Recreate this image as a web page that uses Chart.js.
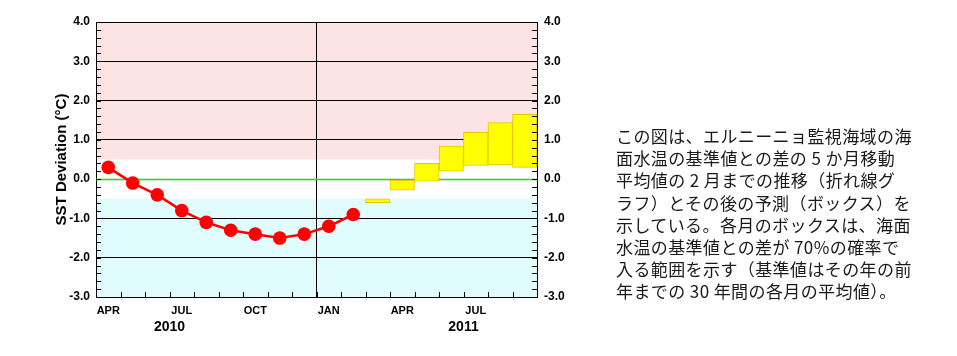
<!DOCTYPE html>
<html><head><meta charset="utf-8">
<script src="https://cdn.jsdelivr.net/npm/chart.js@4/dist/chart.umd.min.js"></script>
<style>
html,body{margin:0;padding:0;background:#fff;width:957px;height:356px;overflow:hidden}
#wrap{position:absolute;left:0;top:0;width:957px;height:356px}
#note{position:absolute;left:616px;top:125px;font-family:"Noto Sans CJK JP";font-size:17px;line-height:22.2px;color:#1a1a1a;white-space:pre;letter-spacing:0.4px}
</style></head><body>
<div id="wrap"><canvas id="c" width="957" height="356"></canvas></div>
<div id="note">この図は、エルニーニョ監視海域の海
面水温の基準値との差の 5 か月移動
平均値の 2 月までの推移（折れ線グ
ラフ）とその後の予測（ボックス）を
示している。各月のボックスは、海面
水温の基準値との差が 70%の確率で
入る範囲を示す（基準値はその年の前
年までの 30 年間の各月の平均値）。</div>
<script>
const months = ['APR','MAY','JUN','JUL','AUG','SEP','OCT','NOV','DEC','JAN','FEB','MAR','APR','MAY','JUN','JUL','AUG','SEP'];
const tickLabels = ['APR','','','JUL','','','OCT','','','JAN','','','APR','','','JUL','',''];
const yearLabels = ['2010','2011'];
const yearAnchorIndex = [3, 15];
const sstObserved = [0.3,-0.1,-0.4,-0.8,-1.1,-1.3,-1.4,-1.5,-1.4,-1.2,-0.9,null,null,null,null,null,null,null];
const boxLow  = [null,null,null,null,null,null,null,null,null,null,null,-0.6,-0.28,-0.05,0.2,0.35,0.36,0.3];
const boxHigh = [null,null,null,null,null,null,null,null,null,null,null,-0.5,-0.03,0.4,0.84,1.19,1.44,1.65];
const yTickValues = [-3,-2,-1,0,1,2,3,4];
const FONT = '"Liberation Sans", Arial, sans-serif';

const boxData = months.map((m,i)=> boxLow[i]===null ? null : [boxLow[i], boxHigh[i]]);

const decor = {
  id:'decor',
  beforeDraw(chart){
    const {ctx, chartArea:a, scales:{y}} = chart;
    ctx.save();
    const p05 = y.getPixelForValue(0.5), m05 = y.getPixelForValue(-0.5);
    ctx.fillStyle = '#fde4e4';
    ctx.fillRect(a.left, a.top, a.right-a.left, p05-a.top);
    ctx.fillStyle = '#e1fcfc';
    ctx.fillRect(a.left, m05, a.right-a.left, a.bottom-m05);
    ctx.restore();
  },
  beforeDatasetsDraw(chart){
    const {ctx, chartArea:a, scales:{y}} = chart;
    ctx.save();
    const z = Math.round(y.getPixelForValue(0))+0.5;
    ctx.strokeStyle = 'rgba(80,210,60,0.35)'; ctx.lineWidth = 3;
    ctx.beginPath(); ctx.moveTo(a.left,z); ctx.lineTo(a.right,z); ctx.stroke();
    ctx.strokeStyle = '#44cc33'; ctx.lineWidth = 1;
    ctx.beginPath(); ctx.moveTo(a.left,z); ctx.lineTo(a.right,z); ctx.stroke();
    ctx.restore();
  },
  afterDraw(chart){
    const {ctx, chartArea:a, scales:{x,y}} = chart;
    ctx.save();
    ctx.strokeStyle = '#000'; ctx.lineWidth = 1;
    ctx.beginPath(); ctx.moveTo(a.left, a.top+0.5); ctx.lineTo(a.right, a.top+0.5); ctx.stroke();
    ctx.beginPath();
    for(let k=-15;k<=20;k++){
      const py = Math.round(y.getPixelForValue(k*0.2))+0.5;
      ctx.moveTo(a.left, py); ctx.lineTo(a.left+5, py);
      ctx.moveTo(a.right, py); ctx.lineTo(a.right-5, py);
    }
    for(let i=1;i<months.length;i++){
      const px = Math.round((x.getPixelForValue(i-1)+x.getPixelForValue(i))/2)+0.5;
      ctx.moveTo(px, a.bottom); ctx.lineTo(px, a.bottom-5);
    }
    ctx.stroke();
    ctx.fillStyle = '#000';
    ctx.font = 'bold 14px ' + FONT;
    ctx.textAlign = 'center'; ctx.textBaseline = 'middle';
    yearLabels.forEach((t,j)=>{
      const i = yearAnchorIndex[j];
      const px = (x.getPixelForValue(i-1)+x.getPixelForValue(i))/2;
      ctx.fillText(t, px, a.bottom+30);
    });
    ctx.restore();
  }
};

new Chart(document.getElementById('c'), {
  data:{
    labels: months,
    datasets:[
      {type:'line', data: sstObserved, borderColor:'#ff0000', backgroundColor:'#ff0000', borderWidth:2.5,
       pointRadius:6.8, pointBorderWidth:0, pointBackgroundColor:'#ff0000', spanGaps:false, order:0, yAxisID:'y'},
      {type:'bar', data: boxData, backgroundColor:'#ffff00', borderColor:'#e8c400', borderWidth:1,
       borderSkipped:false, barPercentage:1, categoryPercentage:1, order:1, yAxisID:'y'}
    ]
  },
  options:{
    responsive:false, animation:false, devicePixelRatio:1,
    layout:{padding:{left:0, right:380, top:22, bottom:0}},
    plugins:{legend:{display:false}, tooltip:{enabled:false}},
    scales:{
      x:{type:'category', offset:true,
         grid:{offset:true, drawTicks:false, lineWidth:1, color:(c)=> c.index===9 ? '#000' : 'rgba(0,0,0,0)'},
         border:{display:true, color:'#000', width:1},
         ticks:{autoSkip:false, maxRotation:0, padding:7, color:'#000', font:{family:FONT, weight:'bold', size:11},
                callback:(v,i)=>tickLabels[i]},
         afterFit:(s)=>{s.height=59;}},
      y:{position:'left', min:-3, max:4,
         afterBuildTicks:(s)=>{s.ticks = yTickValues.map(v=>({value:v}));},
         grid:{drawTicks:false, lineWidth:1, color:(c)=> (c.tick && c.tick.value===0) ? 'rgba(0,0,0,0)' : '#000'},
         border:{display:true, color:'#000', width:1},
         ticks:{padding:6, color:'#000', font:{family:FONT, weight:'bold', size:12}, callback:(v)=>Number(v).toFixed(1)},
         title:{display:true, text:'SST Deviation (°C)', color:'#000', font:{family:FONT, weight:'bold', size:15}, padding:{top:53,bottom:0}},
         afterFit:(s)=>{s.width=96;}},
      y2:{position:'right', min:-3, max:4,
         afterBuildTicks:(s)=>{s.ticks = yTickValues.map(v=>({value:v}));},
         grid:{display:false, drawTicks:false},
         border:{display:true, color:'#000', width:1},
         ticks:{padding:7, color:'#000', font:{family:FONT, weight:'bold', size:12}, callback:(v)=>Number(v).toFixed(1)},
         afterFit:(s)=>{s.width=40;}}
    }
  },
  plugins:[decor]
});
</script>
</body></html>
